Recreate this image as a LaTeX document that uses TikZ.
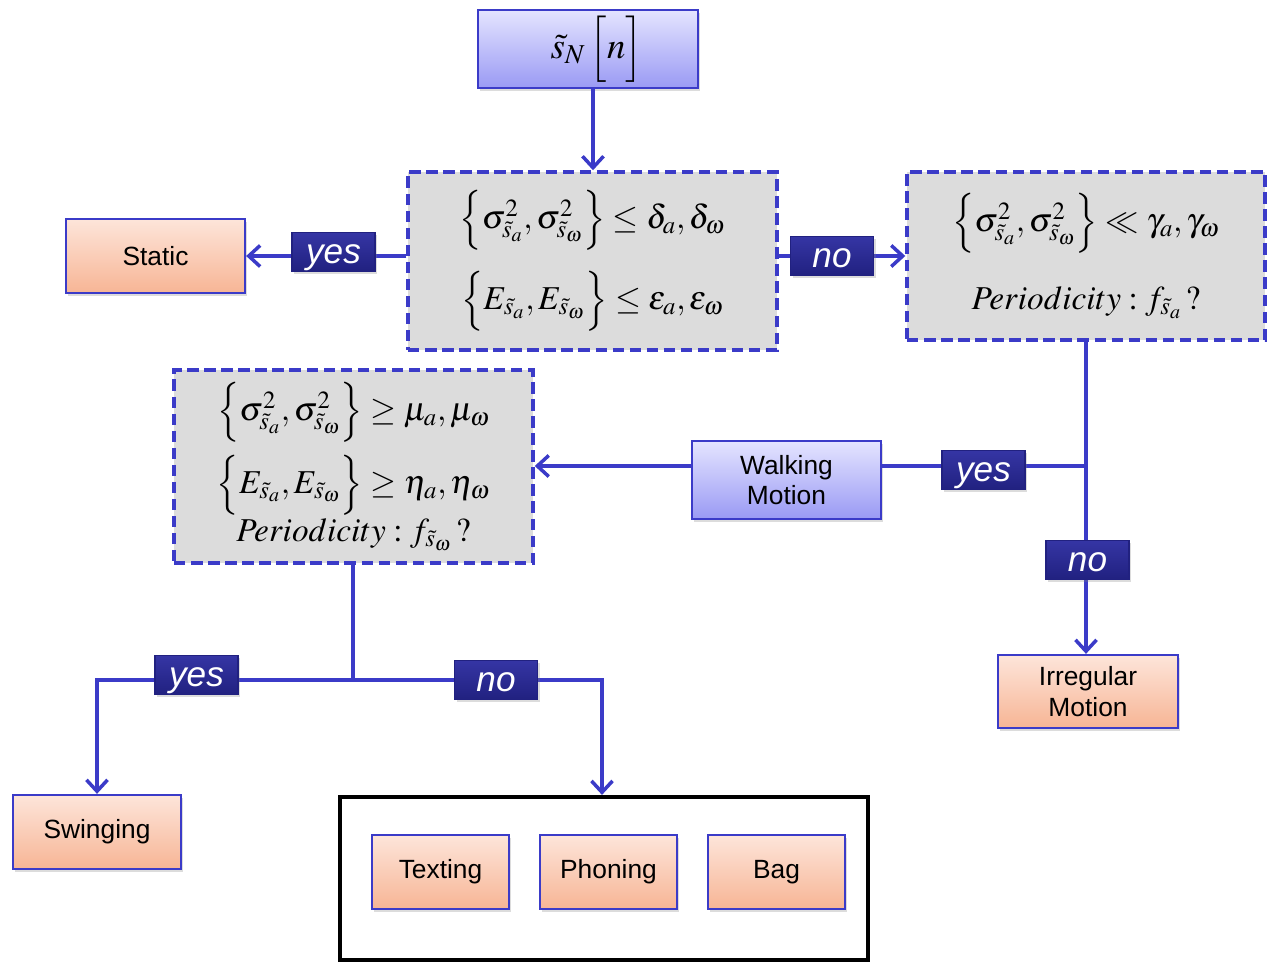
\documentclass[tikz,border=0pt]{standalone}
\usepackage{mathptmx}
\usepackage[no-math]{fontspec}
\setmainfont{Liberation Sans}
\usetikzlibrary{arrows.meta,shadows,calc}

\definecolor{edge}{HTML}{3B3BC8}
\definecolor{tagtop}{HTML}{3535A4}
\definecolor{tagbot}{HTML}{212180}
\definecolor{peachtop}{HTML}{FDE5DA}
\definecolor{peachbot}{HTML}{F7B595}
\definecolor{lavtop}{HTML}{E4E4FF}
\definecolor{lavbot}{HTML}{9A9AF4}
\definecolor{panel}{HTML}{DCDCDC}

\tikzset{
  softshadow/.style={drop shadow={shadow xshift=1.4pt,shadow yshift=-1.6pt,opacity=0.28}},
  box/.style={draw=edge, line width=1.3pt, align=center, inner sep=2pt,
    font=\fontsize{15}{17.5}\selectfont, softshadow},
  peach/.style={box, top color=peachtop, bottom color=peachbot},
  lav/.style={box, top color=lavtop, bottom color=lavbot},
  cond/.style={draw=edge, line width=2pt, dash pattern=on 6.5pt off 3.2pt,
    fill=panel, align=center, inner sep=0pt, font=\fontsize{19}{23}\selectfont},
  tag/.style={top color=tagtop, bottom color=tagbot, draw=tagbot, line width=0.6pt,
    text=white, font=\fontsize{20}{22}\selectfont\itshape,
    text height=13.6pt, text depth=0pt,
    minimum width=1.66cm, minimum height=0.78cm, inner sep=0pt, softshadow},
  link/.style={draw=edge, line width=2pt},
  arr/.style={link, -{Straight Barb[length=6.5pt,width=12pt,line width=2pt]}},
}

\begin{document}
\begin{tikzpicture}[x=0.02cm,y=-0.02cm]
\useasboundingbox (0,0) rectangle (1270,962);

% boxes
\node[lav, minimum width=4.4cm, minimum height=1.56cm, font=\fontsize{21}{24}\selectfont]
  (src) at (588,49) {\hspace*{10pt}$\tilde{s}_N\,\Bigl[n\Bigr]$};

\node[cond, minimum width=7.38cm, minimum height=3.56cm] (c1) at (592.5,261)
  {$\Bigl\{\sigma^{2}_{\tilde{s}_a},\sigma^{2}_{\tilde{s}_\omega}\Bigr\}\le\delta_a,\delta_\omega$\\[11pt]
   $\Bigl\{E_{\tilde{s}_a},E_{\tilde{s}_\omega}\Bigr\}\le\varepsilon_a,\varepsilon_\omega$};

\node[cond, minimum width=7.16cm, minimum height=3.36cm] (c2) at (1086,256)
  {$\Bigl\{\sigma^{2}_{\tilde{s}_a},\sigma^{2}_{\tilde{s}_\omega}\Bigr\}\ll\gamma_a,\gamma_\omega$\\[18pt]
   $Periodicity: f_{\tilde{s}_a}\,?$};

\node[cond, minimum width=7.18cm, minimum height=3.86cm] (c3) at (353.5,466.5)
  {$\Bigl\{\sigma^{2}_{\tilde{s}_a},\sigma^{2}_{\tilde{s}_\omega}\Bigr\}\ge\mu_a,\mu_\omega$\\[6pt]
   $\Bigl\{E_{\tilde{s}_a},E_{\tilde{s}_\omega}\Bigr\}\ge\eta_a,\eta_\omega$\\[1pt]
   $Periodicity: f_{\tilde{s}_\omega}\,?$};

\node[peach, minimum width=3.58cm, minimum height=1.48cm] (static) at (155.5,256) {Static};
\node[lav, minimum width=3.78cm, minimum height=1.56cm] (walk) at (786.5,480) {Walking\\Motion};
\node[peach, minimum width=3.6cm, minimum height=1.46cm] (irr) at (1088,691.5) {Irregular\\Motion};
\node[peach, minimum width=3.36cm, minimum height=1.48cm] (swing) at (97,832) {Swinging};

\node[draw=black, line width=2.4pt, minimum width=10.56cm, minimum height=3.26cm, inner sep=0pt]
  (group) at (604,878.5) {};
\node[peach, minimum width=2.74cm, minimum height=1.48cm] (text) at (440.5,872) {Texting};
\node[peach, minimum width=2.74cm, minimum height=1.48cm] (phone) at (608.5,872) {Phoning};
\node[peach, minimum width=2.74cm, minimum height=1.48cm] (bag) at (776.5,872) {Bag};

% junction points
\coordinate (j1) at (1086,466);
\coordinate (j2) at (353,680);
\coordinate (jl) at (97,680);
\coordinate (jr) at (602,680);

% connectors
\draw[arr] (src.south -| 593,0) -- (c1.north -| 593,0);
\draw[arr] (c1.west |- static.east) -- (static.east);
\draw[arr] (c1.east |- c2.west) -- (c2.west);
\draw[link] (c2.south -| j1) -- (j1) -- (j1 -| walk.east);
\draw[arr] (j1) -- (irr.north -| j1);
\draw[arr] (j1 -| walk.west) -- (j1 -| c3.east);
\draw[link] (c3.south -| j2) -- (j2);
\draw[arr] (jr) -- (jl) -- (swing.north);
\draw[arr] (jl) -- (jr) -- (group.north -| jr);

% decision tags
\node[tag] (y1) at (333.5,252) {yes};
\node[tag] (n1) at (832,256) {no};
\node[tag] (y2) at (983.5,470) {yes};
\node[tag] (n2) at (1087.5,560) {no};
\node[tag] (y3) at (196.5,675) {yes};
\node[tag] (n3) at (496,680) {no};
\end{tikzpicture}
\end{document}
